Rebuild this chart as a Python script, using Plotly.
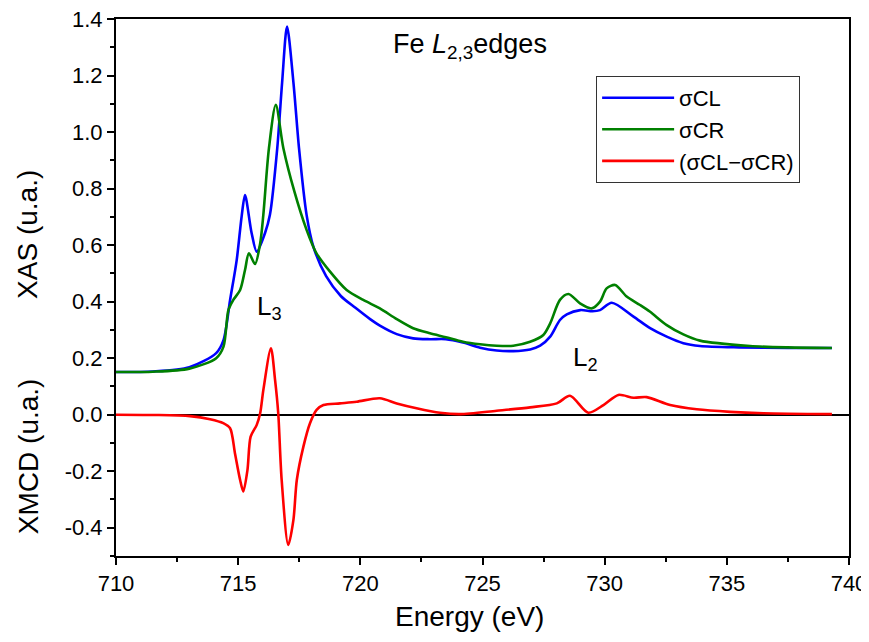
import plotly.graph_objects as go

# ---- data ----
cl_x = [710.0, 711.5, 713.0, 714.1, 714.4, 714.67, 714.94, 715.14, 715.28, 715.55, 715.76, 716.1, 716.3,
        716.6, 716.8, 717.0, 717.26, 717.49, 717.8, 718.08, 718.6, 719.2, 719.8, 720.4, 720.8, 721.49,
        722.16, 722.85, 723.5, 724.2, 724.9, 725.58, 726.26, 726.95, 727.36, 727.77, 728.17, 728.45,
        729.0, 729.5, 729.81, 730.29, 731.18, 731.86, 732.54, 733.22, 733.9, 735.5, 737.5, 739.3]
cl_y = [0.151, 0.153, 0.168, 0.218, 0.264, 0.406, 0.547, 0.70, 0.777, 0.643, 0.577, 0.643, 0.707,
        0.943, 1.177, 1.373, 1.177, 0.943, 0.707, 0.594, 0.490, 0.420, 0.378, 0.338, 0.315, 0.285,
        0.270, 0.267, 0.267, 0.255, 0.237, 0.227, 0.225, 0.231, 0.244, 0.276, 0.335, 0.355,
        0.370, 0.366, 0.370, 0.396, 0.347, 0.306, 0.276, 0.253, 0.243, 0.238, 0.236, 0.236]

cr_x = [710.0, 711.5, 713.0, 714.1, 714.4, 714.6, 714.8, 715.08, 715.28, 715.44, 715.69, 715.9, 716.03,
        716.26, 716.54, 716.85, 717.3, 717.8, 718.2, 718.76, 719.44, 720.12, 720.8, 721.49, 722.16,
        722.85, 723.5, 724.2, 724.9, 725.58, 726.26, 726.95, 727.49, 727.77, 728.17, 728.52, 728.99,
        729.47, 729.81, 730.08, 730.43, 730.9, 731.45, 731.86, 732.54, 733.22, 733.9, 735.95, 737.5, 739.3]
cr_y = [0.151, 0.152, 0.163, 0.200, 0.241, 0.370, 0.406, 0.441, 0.512, 0.571, 0.533, 0.606, 0.707,
        0.943, 1.096, 0.943, 0.790, 0.654, 0.572, 0.506, 0.441, 0.406, 0.376, 0.338, 0.306,
        0.288, 0.274, 0.258, 0.249, 0.244, 0.244, 0.258, 0.282, 0.323, 0.406, 0.427, 0.394,
        0.376, 0.400, 0.447, 0.459, 0.418, 0.388, 0.364, 0.317, 0.284, 0.262, 0.243, 0.238, 0.236]

diff_x = [710.0, 711.5, 713.03, 713.85, 714.39, 714.67, 714.87, 715.08, 715.21, 715.38, 715.51, 715.76,
          715.9, 716.03, 716.34, 716.51, 716.64, 716.78, 717.05, 717.26, 717.4, 717.67, 717.94, 718.21,
          718.49, 719.17, 719.85, 720.8, 721.49, 722.3, 723.26, 724.08, 725.58, 726.95, 728.04, 728.58,
          729.33, 729.95, 730.56, 731.18, 731.72, 732.68, 733.77, 735.13, 736.5, 739.3]
diff_y = [0.0, -0.001, -0.005, -0.016, -0.030, -0.048, -0.137, -0.231, -0.272, -0.196, -0.078, -0.036,
          0.005, 0.087, 0.235, 0.123, 0.005, -0.231, -0.461, -0.373, -0.231, -0.113, -0.030, 0.017,
          0.034, 0.040, 0.046, 0.058, 0.040, 0.023, 0.007, 0.002, 0.014, 0.026, 0.040, 0.067,
          0.007, 0.034, 0.070, 0.060, 0.062, 0.034, 0.019, 0.010, 0.005, 0.002]

series_names = ["σCL", "σCR", "(σCL−σCR)"]
series_colors = ["#0000ff", "#008000", "#ff0000"]

x_tickvals = [710, 715, 720, 725, 730, 735, 740]
x_ticktext = ["710", "715", "720", "725", "730", "735", "740"]
y_tickvals = [-0.4, -0.2, 0.0, 0.2, 0.4, 0.6, 0.8, 1.0, 1.2, 1.4]
y_ticktext = ["-0.4", "-0.2", "0.0", "0.2", "0.4", "0.6", "0.8", "1.0", "1.2", "1.4"]

FONT = "Liberation Sans, Arial, sans-serif"

fig = go.Figure()
for xs, ys, name, col in zip([cl_x, cr_x, diff_x], [cl_y, cr_y, diff_y], series_names, series_colors):
    fig.add_trace(go.Scatter(x=xs, y=ys, mode="lines", name=name,
                             line=dict(color=col, width=2.6, shape="spline", smoothing=0.8)))

fig.update_layout(
    width=861, height=626,
    margin=dict(l=108, r=20, t=11, b=78),
    paper_bgcolor="white", plot_bgcolor="white",
    font=dict(family=FONT, size=20, color="black"),
    showlegend=True,
    legend=dict(x=0.655, y=0.894, xanchor="left", yanchor="top",
                bordercolor="#333333", borderwidth=1, bgcolor="white",
                font=dict(family=FONT, size=22, color="black"),
                itemwidth=72, tracegroupgap=0),
)
fig.update_xaxes(range=[710, 740], tickvals=x_tickvals, ticktext=x_ticktext, automargin=False,
                 ticklabeloverflow="allow",
                 ticks="outside", ticklen=7, tickwidth=2, tickcolor="black",
                 minor=dict(dtick=2.5, ticks="outside", ticklen=4, tickwidth=2, tickcolor="black"),
                 showline=True, linecolor="black", linewidth=2, mirror=True,
                 showgrid=False, zeroline=False,
                 tickfont=dict(family=FONT, size=22, color="black"))
fig.update_yaxes(range=[-0.5, 1.4], tickvals=y_tickvals, ticktext=y_ticktext, automargin=False,
                 ticklabeloverflow="allow",
                 ticks="outside", ticklen=7, tickwidth=2, tickcolor="black",
                 minor=dict(dtick=0.1, tick0=0, ticks="outside", ticklen=4, tickwidth=2, tickcolor="black"),
                 showline=True, linecolor="black", linewidth=2, mirror=True,
                 showgrid=False, zeroline=True, zerolinecolor="black", zerolinewidth=2,
                 tickfont=dict(family=FONT, size=22, color="black"))

annos = [
    dict(text="XAS (u.a.)", x=-0.12, y=0.598, textangle=-90, size=28),
    dict(text="XMCD (u.a.)", x=-0.12, y=0.186, textangle=-90, size=28),
    dict(text="Energy (eV)", x=0.4816, y=-0.113, textangle=0, size=28),
]
for a in annos:
    fig.add_annotation(text=a["text"], xref="paper", yref="paper", x=a["x"], y=a["y"],
                       textangle=a["textangle"], showarrow=False, xanchor="center", yanchor="middle",
                       font=dict(family=FONT, size=a["size"], color="black"))

fig.add_annotation(text="Fe <i>L</i><sub>2,3</sub>edges", x=724.5, y=1.305, xref="x", yref="y",
                   showarrow=False, font=dict(family=FONT, size=27, color="black"))
fig.add_annotation(text="L<sub>3</sub>", x=716.3, y=0.38, xref="x", yref="y",
                   showarrow=False, font=dict(family=FONT, size=26, color="black"))
fig.add_annotation(text="L<sub>2</sub>", x=729.2, y=0.20, xref="x", yref="y",
                   showarrow=False, font=dict(family=FONT, size=26, color="black"))

fig.write_html("out.html")
